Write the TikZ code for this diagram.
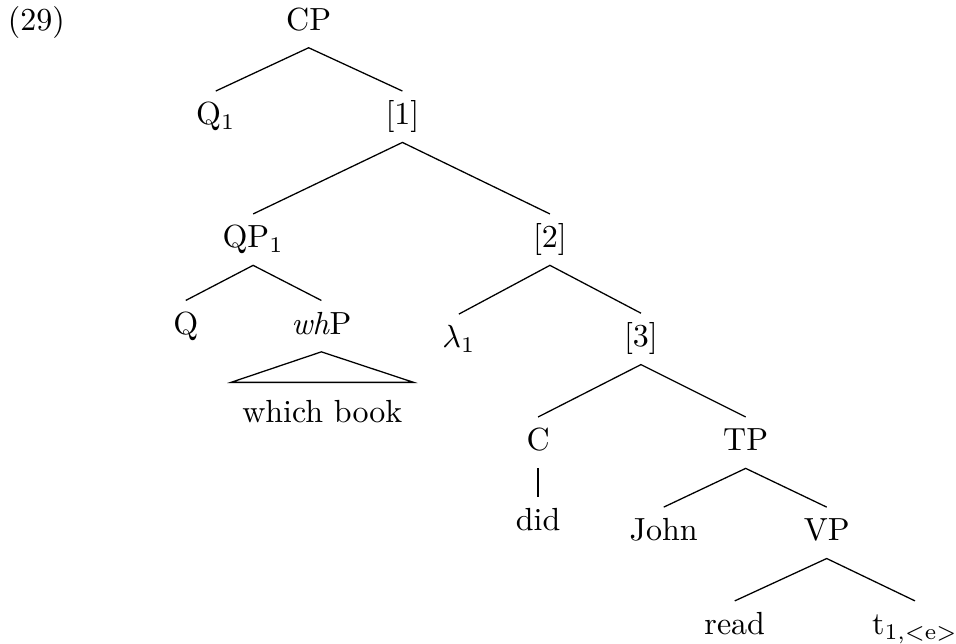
\documentclass[tikz,border=0pt]{standalone}
\usepackage{amsmath,amssymb}
\usepackage{xcolor}
\usepackage{tikz}

\begin{document}
\begin{tikzpicture}[tn/.style={anchor=base, inner sep=3.33pt, text height=7pt, text depth=2pt}]
  \useasboundingbox (0,0) rectangle (10.5,-7.07);
  \node[tn] (ex) at (0.40,-0.33) {(29)};
  \node[tn] (cp) at (3.39,-0.33) {CP};
  \node[tn] (q1) at (2.37,-1.37) {Q$_1$};
  \node[tn] (b1) at (4.42,-1.37) {[1]};
  \node[tn] (qp) at (2.78,-2.72) {QP$_1$};
  \node[tn] (b2) at (6.04,-2.72) {[2]};
  \node[tn] (q) at (2.04,-3.67) {Q};
  \node[tn] (whp) at (3.53,-3.67) {\textit{wh}P};
  \node[tn] (wb) at (3.54,-4.64) {which book};
  \node[tn] (lam) at (5.04,-3.82) {$\lambda_1$};
  \node[tn] (b3) at (7.04,-3.81) {[3]};
  \node[tn] (c) at (5.91,-4.95) {C};
  \node[tn] (tp) at (8.19,-4.95) {TP};
  \node[tn] (did) at (5.91,-5.83) {did};
  \node[tn] (john) at (7.29,-5.94) {John};
  \node[tn] (vp) at (9.08,-5.94) {VP};
  \node[tn] (read) at (8.07,-6.97) {read};
  \node[tn] (tr) at (10.05,-6.97) {t$_{1,<\mathrm{e}>}$};
  \draw (q1.north) -- (cp.south) -- (b1.north);
  \draw (qp.north) -- (b1.south) -- (b2.north);
  \draw (q.north) -- (qp.south) -- (whp.north);
  \draw (whp.south) -- ([yshift=2pt]wb.north west) -- ([yshift=2pt]wb.north east) -- cycle;
  \draw (lam.north) -- (b2.south) -- (b3.north);
  \draw (c.north) -- (b3.south) -- (tp.north);
  \draw (c.south) -- (did.north);
  \draw (john.north) -- (tp.south) -- (vp.north);
  \draw (read.north) -- (vp.south) -- (tr.north);
\end{tikzpicture}
\end{document}
